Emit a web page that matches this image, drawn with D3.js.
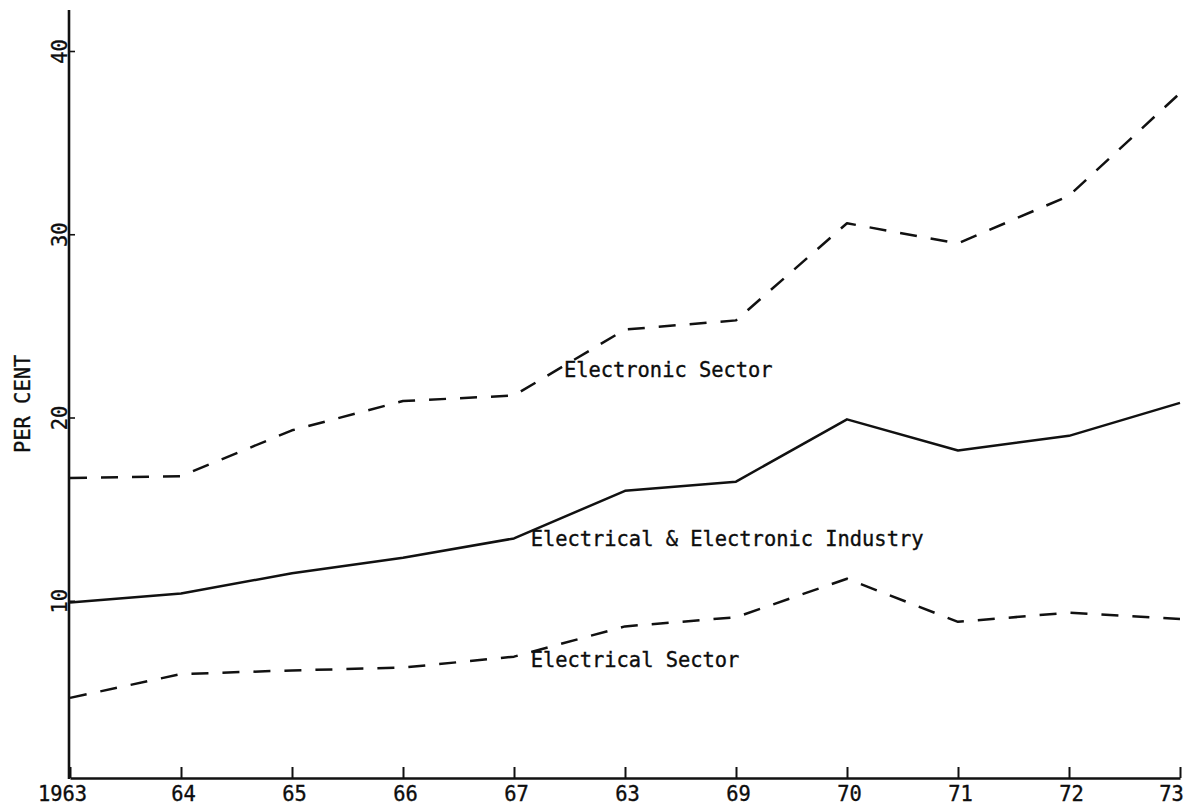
<!DOCTYPE html>
<html>
<head>
<meta charset="utf-8">
<script src="https://cdn.jsdelivr.net/npm/d3@7"></script>
<style>
  body { margin: 0; background: #fff; }
  svg { display: block; background: #fff; }
  text { font-family: "DejaVu Sans Mono", "Liberation Mono", monospace; font-size: 20.4px; fill: #0d0d0d; stroke: #0d0d0d; stroke-width: 0.35px; }
</style>
</head>
<body>
<div id="chart"></div>
<script>
// values (per cent)
var years = [1963, 1964, 1965, 1966, 1967, 1968, 1969, 1970, 1971, 1972, 1973];
var yearLabels = ["1963", "64", "65", "66", "67", "63", "69", "70", "71", "72", "73"];
var electronicSector = [16.7, 16.8, 19.3, 20.9, 21.2, 24.8, 25.3, 30.6, 29.5, 32.1, 37.7];
var industryTotal = [9.9, 10.4, 11.5, 12.35, 13.4, 16.0, 16.5, 19.9, 18.2, 19.0, 20.8];
var electricalSector = [4.7, 6.0, 6.2, 6.35, 6.95, 8.6, 9.1, 11.2, 8.85, 9.35, 9.0];
var yTicks = [10, 20, 30, 40];

// in-chart labels, anchored in data units (year, per cent)
var seriesNames = ["Electronic Sector", "Electrical & Electronic Industry", "Electrical Sector"];
var labelYears = [1967.45, 1967.15, 1967.15];
var labelValues = [22.2, 13.0, 6.4];

var width = 1191, height = 806;
var axisBottomY = 778;   // the x axis sits a little above the zero line, as drawn
var axisTopY = 10;

var svg = d3.select("#chart").append("svg")
  .attr("width", width)
  .attr("height", height);

var x = d3.scaleLinear().domain([1963, 1973]).range([70, 1180]);
var y = d3.scaleLinear().domain([0, 40]).range([784, 51]);

// x axis
var xAxis = svg.append("g")
  .attr("class", "axis x-axis")
  .attr("transform", "translate(0," + axisBottomY + ")")
  .call(d3.axisBottom(x)
    .tickValues(years)
    .tickSizeInner(-11)
    .tickSizeOuter(0)
    .tickFormat(function (d, i) { return yearLabels[i]; }));

xAxis.attr("font-size", null).attr("font-family", null);
xAxis.select(".domain").attr("stroke", "#111").attr("stroke-width", 2.6);
xAxis.selectAll(".tick line").attr("stroke", "#111").attr("stroke-width", 2);
xAxis.selectAll(".tick text")
  .attr("y", 23)
  .attr("dy", null)
  .attr("dx", function (d, i) {
    if (i === 0) return -8;
    if (i === years.length - 1) return -9;
    return 2;
  });

// y axis
var yAxis = svg.append("g")
  .attr("class", "axis y-axis")
  .attr("transform", "translate(69,0)")
  .call(d3.axisLeft(y)
    .tickValues(yTicks)
    .tickSizeInner(-6)
    .tickSizeOuter(0));

yAxis.attr("font-size", null).attr("font-family", null);
yAxis.select(".domain").remove();
yAxis.append("line")
  .attr("x1", 0).attr("x2", 0)
  .attr("y1", axisTopY).attr("y2", axisBottomY + 1)
  .attr("stroke", "#111")
  .attr("stroke-width", 2.6);
yAxis.selectAll(".tick line").attr("stroke", "#111").attr("stroke-width", 1.6);
yAxis.selectAll(".tick text")
  .attr("x", 0)
  .attr("y", -2)
  .attr("dy", null)
  .attr("text-anchor", "middle")
  .attr("transform", "rotate(-90)");

// axis title
svg.append("text")
  .attr("transform", "translate(30,453) rotate(-90)")
  .attr("text-anchor", "start")
  .text("PER CENT");

// lines
var line = d3.line()
  .x(function (d, i) { return x(years[i]); })
  .y(function (d) { return y(d); });

var series = [
  { values: electronicSector, dash: "17,14" },
  { values: industryTotal, dash: null },
  { values: electricalSector, dash: "17,14" }
];

svg.selectAll(".series")
  .data(series)
  .enter()
  .append("path")
  .attr("class", "series")
  .attr("d", function (d) { return line(d.values); })
  .attr("fill", "none")
  .attr("stroke", "#111")
  .attr("stroke-width", 2.5)
  .attr("stroke-linejoin", "round")
  .attr("stroke-dasharray", function (d) { return d.dash; });

// labels on the lines
svg.selectAll(".series-label")
  .data(seriesNames)
  .enter()
  .append("text")
  .attr("class", "series-label")
  .attr("x", function (d, i) { return x(labelYears[i]); })
  .attr("y", function (d, i) { return y(labelValues[i]); })
  .text(function (d) { return d; });
</script>
</body>
</html>
